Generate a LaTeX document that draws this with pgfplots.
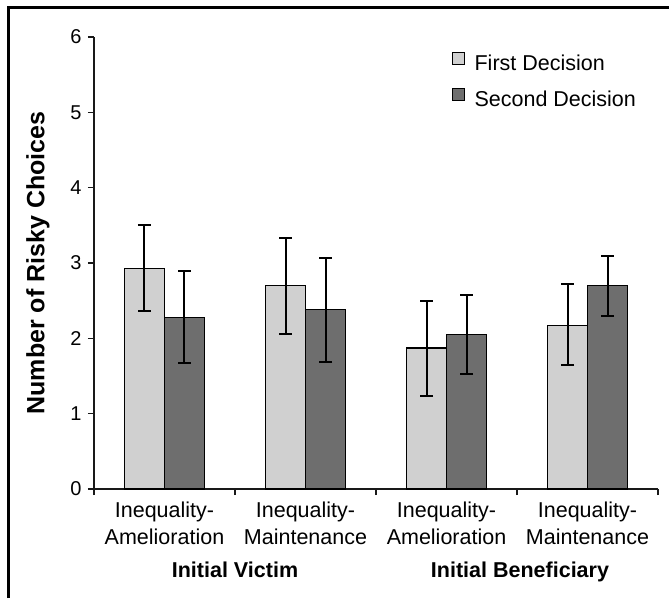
\documentclass[border=0pt]{standalone}
\usepackage{fontspec}
\setmainfont{Liberation Sans}
\usepackage{pgfplots}
\pgfplotsset{compat=1.18}
\definecolor{lightbar}{HTML}{D0D0D0}
\definecolor{darkbar}{HTML}{6E6E6E}
\pgfplotsset{mybars/.style={draw=black, line width=1.4pt,
  error bars/y dir=both, error bars/y explicit,
  error bars/error bar style={line width=2pt, black},
  error bars/error mark options={rotate=90, mark size=6.5pt, line width=2pt, black}}}
\begin{document}
\begin{tikzpicture}
\path[use as bounding box] (-94pt,-109pt) rectangle (575pt,489pt);
\begin{axis}[
  at={(0pt,0pt)}, anchor=south west,
  scale only axis, width=564pt, height=452pt,
  /pgf/number format/assume math mode=true,
  axis lines=left,
  axis line style={-, line width=1.4pt, black!90},
  xmin=0.5, xmax=4.5, ymin=0, ymax=6,
  ytick={0,1,2,3,4,5,6},
  xtick={0.5,1.5,2.5,3.5,4.5},
  xticklabels={},
  extra x ticks={1,2,3,4},
  extra x tick labels={Inequality-\\Amelioration,Inequality-\\Maintenance,Inequality-\\Amelioration,Inequality-\\Maintenance},
  extra x tick style={major tick length=0pt, xticklabel style={align=center, font=\fontsize{21.5}{27}\selectfont, yshift=-9pt}},
  tick align=outside,
  major tick length=6pt,
  tick style={line width=1.4pt, black!90},
  yticklabel style={font=\fontsize{20}{22}\selectfont, xshift=-3pt},
  every axis y label/.style={at={(rel axis cs:0,0.5)}, xshift=-56pt, rotate=90, anchor=center},
  ylabel={\fontsize{25}{28}\selectfont\bfseries Number of Risky Choices},
  ybar=0pt, bar width=40pt,
  clip=false,
  legend style={at={(axis cs:3.04,5.81)}, anchor=north west, draw=none, fill=none,
    font=\fontsize{21.5}{24}\selectfont, row sep=14pt, inner sep=0pt},
  legend cell align=left,
  legend image code/.code={\draw[#1,draw=black,line width=1.1pt] (0pt,-1pt) rectangle (12pt,11pt); \path (19pt,0pt);},
]
\addplot+[mybars, fill=lightbar]
  coordinates {
  (1,2.93) += (0,0.58) -= (0,0.57)
  (2,2.70) += (0,0.63) -= (0,0.64)
  (3,1.87) += (0,0.63) -= (0,0.63)
  (4,2.17) += (0,0.55) -= (0,0.53)
};
\addlegendentry{First Decision}
\addplot+[mybars, fill=darkbar]
  coordinates {
  (1,2.28) += (0,0.61) -= (0,0.61)
  (2,2.38) += (0,0.68) -= (0,0.70)
  (3,2.05) += (0,0.53) -= (0,0.53)
  (4,2.70) += (0,0.39) -= (0,0.40)
};
\addlegendentry{Second Decision}
\end{axis}
\node[anchor=base, font=\fontsize{21.5}{24}\selectfont\bfseries] at (141pt,-88pt) {Initial Victim};
\node[anchor=base, font=\fontsize{21.5}{24}\selectfont\bfseries] at (426pt,-88pt) {Initial Beneficiary};
\draw[line width=3pt] (-85pt,-109pt) -- (-85pt,481pt) -- (575pt,481pt);
\end{tikzpicture}
\end{document}
